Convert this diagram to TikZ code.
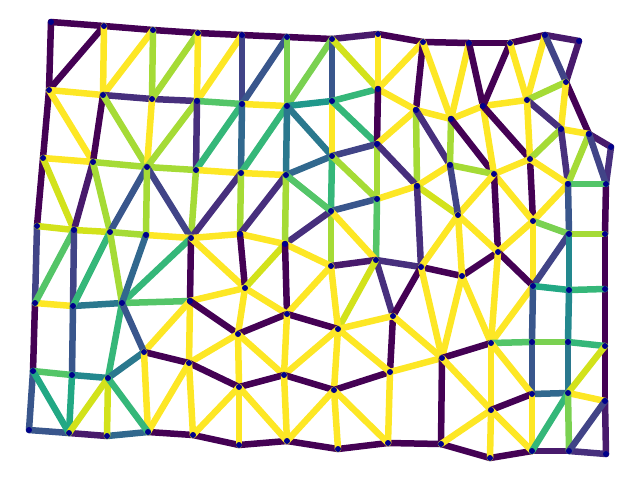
\documentclass[tikz,border=0pt]{standalone}
\usepackage{xcolor}
\usepackage{tikz}
\usetikzlibrary{backgrounds}
\definecolor{vir0}{HTML}{440154}
\definecolor{vir1}{HTML}{481A6C}
\definecolor{vir2}{HTML}{472F7D}
\definecolor{vir3}{HTML}{414487}
\definecolor{vir4}{HTML}{39568C}
\definecolor{vir5}{HTML}{31688E}
\definecolor{vir6}{HTML}{2A788E}
\definecolor{vir7}{HTML}{23888E}
\definecolor{vir8}{HTML}{1F988B}
\definecolor{vir9}{HTML}{22A884}
\definecolor{vir10}{HTML}{35B779}
\definecolor{vir11}{HTML}{54C568}
\definecolor{vir12}{HTML}{7AD151}
\definecolor{vir13}{HTML}{A5DB36}
\definecolor{vir14}{HTML}{D2E21B}
\definecolor{vir15}{HTML}{FDE725}
\definecolor{vertex}{HTML}{00008B}

\begin{document}
\begin{tikzpicture}[x=1pt, y=-1pt, dot/.style={circle, fill=vertex, inner sep=0pt, minimum size=6pt}, edge/.style={line width=6.5pt, line cap=round}]
\useasboundingbox (0,0) rectangle (640,480);
\foreach \n/\x/\y in {A/51/22, B/104/26, C/153/30, D/49/90, E/103/95, F/152/99, G/43/158, H/93/162, I/147/167,
  J/198/33, K/242/35, L/287/37, M/332/39, N/197/101, O/242/104, P/287/106, Q/332/101, R/332/156,
  S/378/34, T/423/42, U/469/43, V/378/89, W/416/110, X/451/119, Y/483/106, Z/377/144, AA/450/165,
  BB/510/43, CC/545/35, DD/579/41, EE/566/82, FF/527/100, GG/561/129, HH/589/134, II/611/147, JJ/530/159,
  KK/37/226, LL/74/230, MM/110/232, NN/146/235, OO/35/303, PP/73/306, QQ/122/303,
  RR/196/170, SS/241/173, TT/286/175, UU/331/211, VV/191/238, WW/240/234, XX/285/244, YY/331/266,
  ZZ/245/288, AB/190/301, AC/287/314, AD/377/199, AE/417/186, AF/494/174, AG/458/215, AH/376/260,
  AI/421/267, AJ/462/276, AK/498/252, AL/393/316, AM/568/184, AN/606/184, AO/533/221, AP/569/234,
  AQ/605/234, AR/533/286, AS/569/290, AT/605/289, AU/144/352, AV/33/371, AW/72/375, AX/108/378,
  AY/29/430, AZ/69/433, BA/107/436, BC/148/432, BD/238/334, BE/338/329, BF/189/363, BG/239/387,
  BH/284/375, BI/334/390, BJ/193/435, BK/239/445, BL/287/441, BM/338/449, BN/390/372, BO/442/358,
  BP/491/343, BQ/491/410, BR/388/443, BS/441/444, BT/490/458, BU/532/342, BV/568/342, BW/605/346,
  BX/532/394, BY/568/393, BZ/605/401, CA/532/451, CB/569/451, CD/606/454}
  \node[dot] (\n) at (\x,\y) {};
\begin{scope}[on background layer]
\foreach \a/\b/\c in {A/B/0, B/C/0, C/J/0, J/K/0, K/L/0, L/M/0, M/S/1, S/T/0, T/U/0, U/BB/0, BB/CC/0, CC/DD/1,
  A/D/0, D/G/0, G/KK/0, KK/OO/3, OO/AV/0, AV/AY/4,
  DD/EE/1, EE/HH/0, HH/II/1, II/AN/2, AN/AQ/0, AQ/AT/0, AT/BW/0, BW/BZ/0, BZ/CD/1,
  AY/AZ/4, AZ/BA/1, BA/BC/5, BC/BJ/0, BJ/BK/0, BK/BL/0, BL/BM/0, BM/BR/0, BR/BS/0, BS/BT/0, BT/CA/0, CA/CB/1, CB/CD/2,
  B/D/0, B/E/15, C/E/15, C/F/13, D/E/15, E/F/2, F/N/2, F/J/13, D/H/15, E/H/0, E/I/13, F/I/15, G/H/15, H/I/13, I/N/13, I/RR/13,
  J/N/15, K/N/15, K/O/3, L/O/4, L/P/12, M/P/12, M/Q/4, N/O/11, O/P/15, P/Q/8, N/RR/2, O/RR/10, O/SS/5, P/SS/10,
  P/TT/6, P/R/6, Q/R/15, R/TT/5, Q/V/10, Q/Z/10,
  M/V/14, S/V/15, T/V/15, T/W/0, T/X/15, U/X/15, U/Y/0, V/W/15, V/Z/0, R/Z/3, Z/W/15, W/X/15, X/Y/15, W/AE/13,
  W/AA/2, X/AA/13, X/AF/0, Y/FF/15, Y/AF/15, Y/JJ/0, Z/AD/13, Z/AE/2, R/UU/10, R/AD/13,
  BB/Y/0, BB/FF/15, CC/FF/15, CC/EE/3, EE/FF/13, EE/GG/15, FF/GG/2, FF/JJ/15, GG/HH/15, GG/JJ/13, GG/AM/2, HH/AM/13, HH/AN/3,
  JJ/AO/0, JJ/AF/15, JJ/AM/15,
  AA/AF/13, AF/AO/15, AF/AK/0, AF/AG/15, AM/AO/15, AM/AN/11, AM/AP/4, AO/AP/12, AP/AQ/13, AO/AK/15, AO/AR/15, AP/AR/3,
  AP/AS/7, AK/AJ/0, AK/AR/0, AK/BP/15, AJ/BP/15, AR/BP/15, AR/BU/4, AR/AS/9, AS/AT/10, AS/BV/7, AJ/AI/0,
  AD/AE/15, AA/AE/15, AE/AG/14, AE/AI/2, AD/UU/4, AD/AH/11, AA/AG/3, AG/AJ/15, AG/AI/15, AG/AK/15, UU/YY/13, UU/AH/15,
  UU/XX/2, YY/AH/1, AH/AI/2, AH/AL/2, AI/AL/0, AH/BE/14, AI/BO/15, AJ/BO/15, AL/BN/0,
  RR/SS/15, SS/TT/15, RR/VV/13, SS/VV/2, SS/WW/13, TT/WW/2, TT/XX/13, TT/UU/11, I/VV/3, VV/NN/15, VV/QQ/10, VV/WW/15,
  WW/XX/15, XX/YY/15, VV/AB/0, VV/ZZ/15, WW/ZZ/0, XX/ZZ/14, XX/AC/0, ZZ/AC/15, ZZ/AB/15, YY/AC/15, YY/BE/15, QQ/AB/11,
  AB/BF/15, AB/AU/15, AB/BD/0, ZZ/BD/15, AC/BD/0, AC/BE/0,
  BD/BF/15, BD/BG/15, BD/BH/15, AC/BH/15, BE/BH/15, BE/BI/15, BF/BG/0, BG/BH/0, BH/BI/0, AU/BF/0, BF/BC/15, BF/BJ/15,
  BG/BJ/15, BG/BK/15, BG/BL/15, BH/BL/15, BI/BL/15, BI/BM/15, BI/BN/0,
  BE/AL/15, AL/BO/15, BE/BN/15, BN/BO/15, BN/BR/15, BI/BR/15, BS/BO/0, BO/BP/0, BO/BQ/15, BS/BQ/15, BQ/BT/15, BP/BQ/15,
  BP/BU/11, BU/BV/12, BV/BW/10, BU/BX/4, BV/BY/6, BW/BY/14, BP/BX/15, BX/BY/5, BY/BZ/15, BQ/BX/0, BQ/CA/15, BX/CA/15,
  CA/BY/10, BY/CB/12, CB/BZ/3,
  OO/PP/15, PP/QQ/6, PP/AW/4, QQ/AX/10, QQ/AU/4, AU/AX/6, AU/BC/15, AV/AW/11, AW/AX/7, AV/AZ/9, AW/AZ/9, AX/AZ/14,
  AX/BA/14, AX/BC/10,
  G/LL/14, H/LL/1, H/MM/13, I/MM/4, I/NN/13, KK/LL/14, LL/MM/14, MM/NN/13, LL/OO/11, LL/PP/3, MM/PP/10, MM/QQ/13, NN/QQ/5}
  \draw[edge, draw=vir\c] (\a.center) -- (\b.center);
\end{scope}
\end{tikzpicture}
\end{document}
